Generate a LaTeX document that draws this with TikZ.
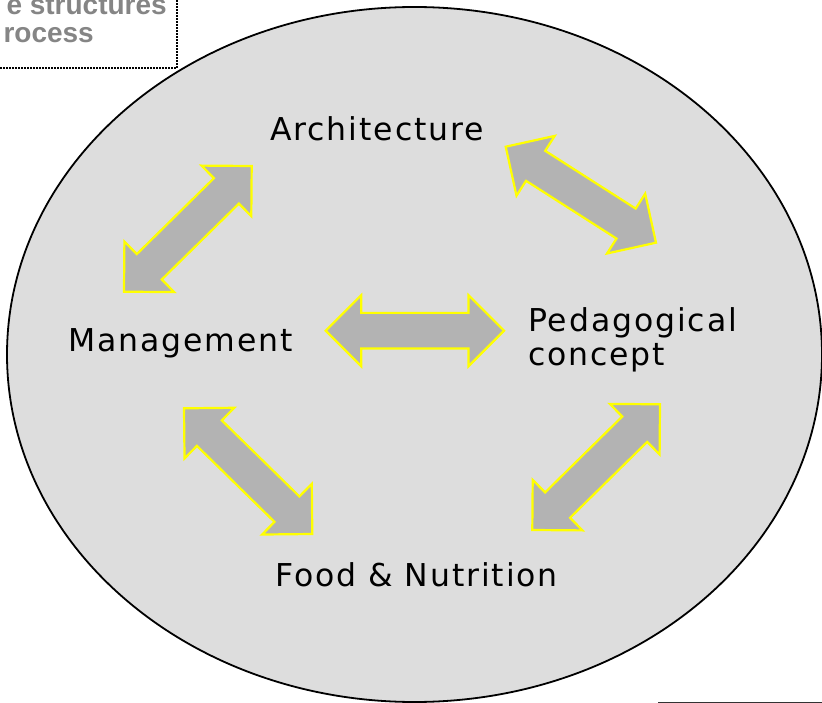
\documentclass[tikz,border=0pt]{standalone}
\usepackage{fontspec}
\setmainfont{DejaVu Sans}
\newfontfamily\lab[LetterSpace=6]{DejaVu Sans}
\newfontfamily\boxfont{Liberation Sans}
\usetikzlibrary{calc}
\definecolor{ellfill}{HTML}{DDDDDD}
\definecolor{arrfill}{HTML}{B3B3B3}
\definecolor{arredge}{HTML}{FFFF00}
\definecolor{boxtext}{HTML}{858585}
\tikzset{
  arrowshape/.style={fill=arrfill, draw=arredge, line width=2.2pt, line join=miter},
  label/.style={font=\lab\fontsize{31.5}{36}\selectfont, inner sep=0pt, anchor=base west},
  boxlabel/.style={font=\boxfont\bfseries\fontsize{28}{32}\selectfont, text=boxtext, inner sep=0pt, anchor=base east}
}
\newcommand{\dblarr}[3]{%
  \coordinate (#1a) at #2;
  \coordinate (#1b) at #3;
  \coordinate (#1ha) at ($(#1a)!35.5pt!(#1b)$);
  \coordinate (#1hb) at ($(#1b)!35.5pt!(#1a)$);
  \draw[arrowshape] (#1a)
    -- ($(#1ha)!35.5pt!90:(#1a)$)
    -- ($(#1ha)!17.8pt!90:(#1a)$)
    -- ($(#1hb)!17.8pt!-90:(#1b)$)
    -- ($(#1hb)!35.5pt!-90:(#1b)$)
    -- (#1b)
    -- ($(#1hb)!35.5pt!90:(#1b)$)
    -- ($(#1hb)!17.8pt!90:(#1b)$)
    -- ($(#1ha)!17.8pt!-90:(#1a)$)
    -- ($(#1ha)!35.5pt!-90:(#1a)$)
    -- cycle;
}
\begin{document}
\begin{tikzpicture}[x=1pt,y=-1pt]
\useasboundingbox (0,0) rectangle (822,703);
% title box (cut off at the page edge)
\draw[line width=1.5pt, dash pattern=on 1.5pt off 1.5pt] (-20,-20) rectangle (177,68);
\node[boxlabel] (boxa) at (167,15) {e structures};
\node[boxlabel] (boxb) at (94,43) {rocess};
% ellipse
\draw[fill=ellfill, line width=1.8pt] (414.5,354.5) ellipse [x radius=407.5pt, y radius=347.5pt];
% arrows
\dblarr{ar1}{(251.7,166)}{(124,291.7)}
\dblarr{ar2}{(505.7,146.7)}{(656,242.7)}
\dblarr{ar3}{(184,408.3)}{(312.3,534)}
\dblarr{ar4}{(660,404.3)}{(532.3,530)}
\dblarr{ar5}{(325.7,330.7)}{(504,330.7)}
% labels
\node[label] (arch) at (270,141) {Architecture};
\node[label] (mgmt) at (68,352) {Management};
\node[label] (peda) at (528,331) {Pedagogical};
\node[label] (conc) at (528,366) {concept};
\node[label] (food) at (275,586) {Food \& Nutrition};
% bottom right rule
\draw[line width=1pt, draw=black!80] (658,702) -- (822,702);
\end{tikzpicture}
\end{document}
